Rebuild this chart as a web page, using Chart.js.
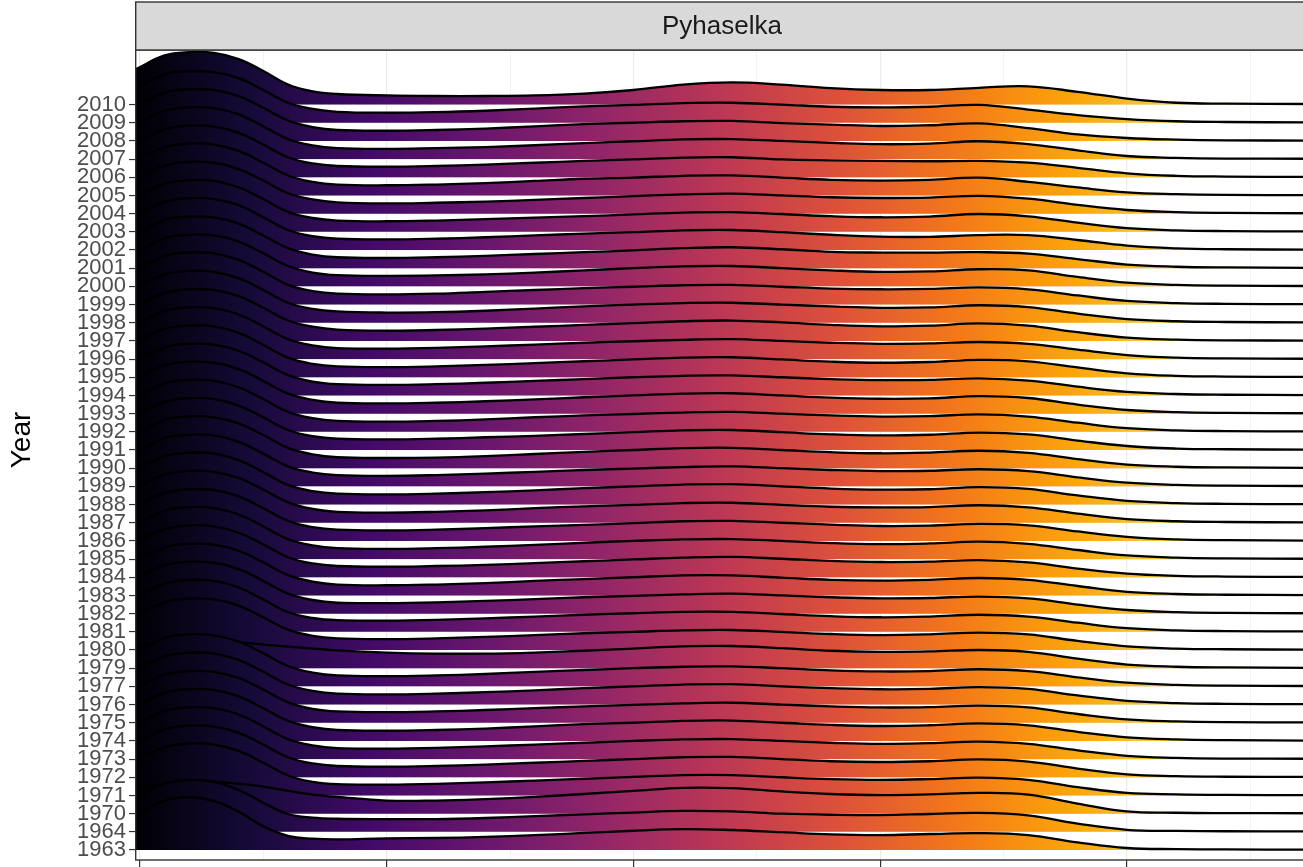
<!DOCTYPE html>
<html>
<head>
<meta charset="utf-8">
<script src="https://cdn.jsdelivr.net/npm/chart.js@4.4.0/dist/chart.umd.min.js"></script>
<style>
html,body{margin:0;padding:0;background:#fff;overflow:hidden}
#wrap{width:1310px;height:867px;position:relative}
</style>
</head>
<body>
<div id="wrap"><canvas id="c" width="1310" height="867"></canvas></div>
<script>
// ---------- data ----------
const panelTitle = 'Pyhaselka';
const yAxisTitle = 'Year';
const yearLabels = ['1963','1964','1970','1971','1972','1973','1974','1975','1976','1977',
  '1979','1980','1981','1982','1983','1984','1985','1986','1987','1988','1989','1990',
  '1991','1992','1993','1994','1995','1996','1997','1998','1999','2000','2001','2002',
  '2003','2004','2005','2006','2007','2008','2009','2010'];
const xGrid = [-0.08,0.5,1,1.5,2,2.5,3,3.5,4,5,6,7,8,9,10,11,12,13,14,15,16,17,18,19,20,21,22,23.67];
const xMajorTicks = [0,5,10,15,20];
const xMinorTicks = [2.5,7.5,12.5,17.5,22.5];
const xRange = [-0.08, 23.67];
const yRange = [-0.55, 44.0];

// ridge heights (in row units) at each xGrid point
const y1963 = [1.9,2.7,2.9,2.7,2.1,1.3,0.78,0.62,0.58,0.64,0.66,0.72,0.82,0.94,1.06,1.15,1.1,0.98,0.86,0.82,0.88,0.93,0.82,0.42,0.11,0.05,0.03,0.02];
const y1964 = [1.9,2.66,2.85,2.75,2.3,1.6,0.98,0.78,0.72,0.7,0.7,0.76,0.86,0.96,1.06,1.15,1.12,1.0,0.94,0.92,0.98,1.04,0.9,0.45,0.11,0.05,0.03,0.02];
const y1970 = [1.4,1.65,1.75,1.75,1.65,1.48,1.25,1.05,0.92,0.72,0.72,0.8,0.92,1.08,1.25,1.42,1.4,1.22,1.08,1.02,1.06,1.14,1.05,0.55,0.12,0.05,0.03,0.02];
const y1971 = [1.9,2.65,2.85,2.8,2.45,1.8,1.1,0.75,0.62,0.6,0.64,0.72,0.82,0.92,1.02,1.12,1.12,1.0,0.9,0.86,0.9,0.98,0.86,0.46,0.14,0.06,0.03,0.02];
const y1972 = [1.9,2.64,2.84,2.78,2.44,1.8,1.1,0.76,0.62,0.58,0.62,0.7,0.8,0.9,1.0,1.1,1.12,1.0,0.88,0.84,0.88,0.98,0.86,0.48,0.16,0.06,0.03,0.02];
const y1973 = [1.9,2.65,2.85,2.8,2.45,1.8,1.1,0.75,0.6,0.58,0.62,0.7,0.8,0.9,1.0,1.08,1.1,1.0,0.9,0.84,0.88,0.96,0.84,0.48,0.18,0.07,0.03,0.02];
const y1974 = [1.92,2.66,2.85,2.8,2.45,1.8,1.1,0.76,0.6,0.56,0.6,0.68,0.8,0.92,1.0,1.1,1.12,1.0,0.88,0.82,0.86,0.96,0.86,0.5,0.2,0.08,0.04,0.02];
const y1975 = [1.9,2.64,2.84,2.8,2.46,1.82,1.12,0.76,0.62,0.58,0.62,0.7,0.8,0.9,0.98,1.06,1.1,1.0,0.9,0.84,0.86,0.94,0.84,0.48,0.18,0.07,0.03,0.02];
const y1976 = [1.9,2.65,2.85,2.8,2.45,1.8,1.1,0.75,0.6,0.56,0.6,0.68,0.78,0.9,1.0,1.1,1.12,1.0,0.9,0.84,0.86,0.96,0.86,0.5,0.2,0.08,0.04,0.02];
const y1977 = [1.9,2.66,2.86,2.8,2.46,1.82,1.12,0.76,0.6,0.56,0.6,0.68,0.8,0.9,1.0,1.08,1.1,1.0,0.88,0.82,0.84,0.94,0.84,0.5,0.2,0.08,0.04,0.02];
const y1979 = [1.2,1.4,1.48,1.48,1.42,1.3,1.18,1.08,0.98,0.86,0.8,0.8,0.86,0.96,1.08,1.2,1.22,1.1,0.96,0.9,0.92,1.0,0.9,0.52,0.2,0.08,0.04,0.02];
const y1980 = [1.88,2.62,2.82,2.78,2.44,1.8,1.12,0.78,0.64,0.6,0.64,0.72,0.82,0.92,1.0,1.08,1.1,1.0,0.88,0.82,0.86,0.96,0.86,0.5,0.2,0.08,0.04,0.02];
const y1981 = [1.9,2.65,2.85,2.8,2.44,1.78,1.08,0.76,0.64,0.62,0.66,0.74,0.84,0.94,1.02,1.1,1.1,0.98,0.86,0.8,0.84,0.94,0.84,0.5,0.2,0.08,0.04,0.02];
const y1982 = [1.92,2.66,2.85,2.8,2.45,1.8,1.1,0.75,0.6,0.58,0.62,0.7,0.8,0.9,0.98,1.06,1.1,1.0,0.9,0.84,0.86,0.94,0.84,0.5,0.2,0.08,0.04,0.02];
const y1983 = [1.9,2.64,2.84,2.8,2.46,1.82,1.12,0.76,0.6,0.56,0.6,0.68,0.8,0.9,1.0,1.1,1.1,0.98,0.86,0.82,0.86,0.96,0.86,0.52,0.2,0.08,0.04,0.02];
const y1984 = [1.9,2.65,2.85,2.8,2.45,1.8,1.1,0.76,0.62,0.58,0.62,0.68,0.78,0.88,0.98,1.08,1.12,1.02,0.9,0.84,0.86,0.94,0.82,0.48,0.2,0.08,0.04,0.02];
const y1985 = [1.92,2.66,2.86,2.8,2.45,1.8,1.1,0.75,0.6,0.56,0.6,0.68,0.78,0.9,1.0,1.08,1.1,1.0,0.88,0.82,0.86,0.96,0.84,0.5,0.2,0.08,0.04,0.02];
const y1986 = [1.9,2.64,2.84,2.8,2.45,1.8,1.1,0.76,0.62,0.58,0.62,0.7,0.8,0.88,0.98,1.08,1.1,1.0,0.9,0.82,0.84,0.94,0.86,0.52,0.22,0.08,0.04,0.02];
const y1987 = [1.9,2.65,2.85,2.8,2.46,1.82,1.12,0.76,0.6,0.56,0.6,0.68,0.8,0.9,0.98,1.08,1.1,0.98,0.88,0.84,0.86,0.96,0.84,0.5,0.2,0.08,0.04,0.02];
const y1988 = [1.92,2.66,2.85,2.8,2.44,1.78,1.08,0.74,0.6,0.56,0.6,0.68,0.78,0.9,1.0,1.1,1.12,1.0,0.88,0.82,0.84,0.96,0.86,0.5,0.2,0.08,0.04,0.02];
const y1989 = [1.9,2.65,2.84,2.8,2.45,1.8,1.1,0.76,0.62,0.58,0.62,0.7,0.8,0.9,0.98,1.06,1.1,1.0,0.9,0.84,0.86,0.94,0.84,0.5,0.2,0.08,0.04,0.02];
const y1990 = [1.9,2.65,2.85,2.8,2.46,1.82,1.12,0.76,0.6,0.56,0.58,0.66,0.78,0.9,1.0,1.1,1.12,1.0,0.88,0.82,0.86,0.96,0.84,0.5,0.2,0.08,0.04,0.02];
const y1991 = [1.92,2.66,2.85,2.8,2.44,1.8,1.1,0.76,0.62,0.58,0.62,0.7,0.78,0.88,0.98,1.08,1.1,0.98,0.86,0.8,0.84,0.96,0.86,0.52,0.22,0.08,0.04,0.02];
const y1992 = [1.9,2.66,2.86,2.8,2.45,1.8,1.1,0.75,0.6,0.56,0.6,0.68,0.8,0.9,0.98,1.06,1.1,1.0,0.9,0.84,0.86,0.96,0.84,0.5,0.2,0.08,0.04,0.02];
const y1993 = [1.9,2.65,2.85,2.8,2.45,1.8,1.1,0.76,0.6,0.56,0.6,0.68,0.78,0.9,1.0,1.1,1.12,1.0,0.88,0.82,0.84,0.96,0.86,0.5,0.2,0.08,0.04,0.02];
const y1994 = [1.9,2.64,2.84,2.8,2.46,1.82,1.12,0.76,0.62,0.58,0.62,0.7,0.8,0.9,1.0,1.08,1.1,1.0,0.9,0.84,0.86,0.94,0.82,0.48,0.2,0.08,0.04,0.02];
const y1995 = [1.92,2.66,2.85,2.8,2.44,1.78,1.08,0.74,0.6,0.56,0.6,0.68,0.78,0.88,0.98,1.08,1.1,0.98,0.86,0.8,0.84,0.96,0.88,0.54,0.22,0.08,0.04,0.02];
const y1996 = [1.9,2.65,2.85,2.8,2.45,1.8,1.1,0.75,0.6,0.58,0.62,0.7,0.8,0.9,0.98,1.06,1.1,1.0,0.9,0.84,0.86,0.94,0.84,0.52,0.22,0.08,0.04,0.02];
const y1997 = [1.9,2.64,2.84,2.8,2.46,1.82,1.12,0.78,0.62,0.56,0.6,0.68,0.78,0.88,0.98,1.08,1.12,1.02,0.88,0.8,0.84,0.96,0.84,0.48,0.18,0.07,0.03,0.02];
const y1998 = [1.92,2.66,2.85,2.8,2.45,1.8,1.1,0.76,0.62,0.56,0.58,0.66,0.78,0.9,1.0,1.08,1.1,1.0,0.9,0.82,0.84,0.96,0.86,0.5,0.2,0.08,0.04,0.02];
const y1999 = [1.9,2.66,2.86,2.82,2.46,1.8,1.08,0.74,0.6,0.56,0.6,0.7,0.8,0.9,0.98,1.06,1.08,0.98,0.88,0.84,0.86,0.94,0.84,0.5,0.2,0.08,0.04,0.02];
const y2000 = [1.88,2.64,2.84,2.8,2.46,1.82,1.12,0.76,0.62,0.58,0.6,0.66,0.76,0.88,1.0,1.1,1.12,1.0,0.88,0.8,0.82,0.94,0.88,0.52,0.2,0.08,0.04,0.02];
const y2001 = [1.9,2.65,2.84,2.8,2.45,1.8,1.1,0.75,0.6,0.56,0.6,0.68,0.78,0.88,0.98,1.1,1.15,1.04,0.9,0.86,0.86,0.88,0.8,0.5,0.2,0.08,0.04,0.02];
const y2002 = [1.92,2.66,2.85,2.8,2.46,1.8,1.1,0.76,0.62,0.58,0.62,0.7,0.8,0.9,0.98,1.08,1.1,0.98,0.84,0.74,0.72,0.82,0.82,0.55,0.24,0.09,0.04,0.02];
const y2003 = [1.9,2.65,2.84,2.8,2.45,1.8,1.1,0.76,0.62,0.58,0.62,0.7,0.78,0.86,0.96,1.06,1.08,0.98,0.86,0.8,0.84,0.98,0.85,0.5,0.2,0.08,0.04,0.02];
const y2004 = [1.9,2.64,2.84,2.8,2.45,1.82,1.12,0.78,0.62,0.56,0.6,0.66,0.76,0.86,0.96,1.06,1.1,1.0,0.9,0.86,0.88,0.98,0.82,0.48,0.2,0.08,0.04,0.02];
const y2005 = [1.9,2.65,2.85,2.8,2.45,1.8,1.1,0.75,0.6,0.56,0.6,0.68,0.8,0.92,0.98,1.08,1.1,0.98,0.86,0.82,0.86,0.98,0.75,0.44,0.17,0.07,0.03,0.02];
const y2006 = [1.9,2.64,2.84,2.78,2.44,1.8,1.1,0.76,0.62,0.58,0.62,0.7,0.8,0.9,0.98,1.08,1.1,0.98,0.93,0.9,0.88,0.9,0.8,0.52,0.22,0.08,0.04,0.02];
const y2007 = [1.92,2.66,2.85,2.8,2.46,1.8,1.1,0.75,0.6,0.56,0.6,0.66,0.76,0.88,0.98,1.08,1.1,1.0,0.9,0.82,0.85,0.98,0.82,0.48,0.17,0.07,0.03,0.02];
const y2008 = [1.9,2.65,2.84,2.8,2.46,1.82,1.12,0.76,0.6,0.56,0.6,0.68,0.8,0.92,1.0,1.08,1.1,0.98,0.9,0.82,0.86,0.96,0.7,0.36,0.16,0.07,0.03,0.02];
const y2009 = [1.9,2.66,2.82,2.78,2.45,1.8,1.1,0.76,0.6,0.55,0.58,0.66,0.78,0.9,0.98,1.08,1.1,1.0,0.88,0.84,0.88,0.98,0.72,0.42,0.2,0.08,0.04,0.02];
const y2010 = [1.95,2.7,2.88,2.84,2.5,1.85,1.1,0.72,0.58,0.5,0.47,0.47,0.5,0.6,0.8,1.1,1.22,1.1,0.9,0.8,0.8,0.92,1.0,0.7,0.33,0.1,0.05,0.03];

const ridgeSeries = [y1963,y1964,y1970,y1971,y1972,y1973,y1974,y1975,y1976,y1977,
  y1979,y1980,y1981,y1982,y1983,y1984,y1985,y1986,y1987,y1988,y1989,y1990,
  y1991,y1992,y1993,y1994,y1995,y1996,y1997,y1998,y1999,y2000,y2001,y2002,
  y2003,y2004,y2005,y2006,y2007,y2008,y2009,y2010];

// inferno palette stops
const inferno = ['#000004','#160B39','#420A68','#6A176E','#932667','#BC3754','#DD513A','#F37819','#FCA50A','#F6D746','#FCFFA4'];

// ---------- chart ----------
let gradCache = null, gradKey = '';
function infernoFill(context) {
  const chart = context.chart;
  const area = chart.chartArea;
  if (!area) return '#000';
  const x = chart.scales.x;
  const x0 = x.getPixelForValue(xRange[0]), x1 = x.getPixelForValue(xRange[1]);
  const key = x0 + ',' + x1;
  if (gradCache && gradKey === key) return gradCache;
  const g = chart.ctx.createLinearGradient(x0, 0, x1, 0);
  inferno.forEach((c, i) => g.addColorStop(i / (inferno.length - 1), c));
  gradCache = g; gradKey = key;
  return g;
}

const datasets = ridgeSeries.map((vals, i) => ({
  label: yearLabels[i],
  data: xGrid.map((x, k) => ({x: x, y: i + vals[k]})),
  fill: {value: i},
  backgroundColor: infernoFill,
  borderColor: '#000000',
  borderWidth: 2.3,
  pointRadius: 0,
  tension: 0.4
}));

const isMajor = v => xMajorTicks.includes(v);

const decor = {
  id: 'decor',
  afterDraw(chart) {
    const {ctx, chartArea: a} = chart;
    ctx.save();
    ctx.strokeStyle = '#333333';
    ctx.lineWidth = 1.4;
    ctx.strokeRect(a.left - 0.3, a.top, a.right - a.left, a.bottom - a.top);
    ctx.fillStyle = '#d9d9d9';
    ctx.fillRect(a.left - 0.3, 2, a.right - a.left, a.top - 2);
    ctx.strokeRect(a.left - 0.3, 2, a.right - a.left, a.top - 2);
    ctx.fillStyle = '#1a1a1a';
    ctx.font = '26px "Liberation Sans", Arial, sans-serif';
    ctx.textAlign = 'center';
    ctx.textBaseline = 'middle';
    ctx.fillText(panelTitle, (a.left + a.right) / 2, 27);
    ctx.translate(22, 440);
    ctx.rotate(-Math.PI / 2);
    ctx.fillStyle = '#000000';
    ctx.font = '28px "Liberation Sans", Arial, sans-serif';
    ctx.fillText(yAxisTitle, 0, 0);
    ctx.restore();
  }
};

new Chart(document.getElementById('c'), {
  type: 'line',
  data: {datasets},
  options: {
    responsive: false,
    animation: false,
    devicePixelRatio: 1,
    layout: {padding: {top: 50, right: 2, bottom: 0, left: 0}},
    plugins: {legend: {display: false}, tooltip: {enabled: false}},
    scales: {
      x: {
        type: 'linear',
        min: xRange[0], max: xRange[1],
        afterBuildTicks: s => { s.ticks = [...xMajorTicks, ...xMinorTicks].sort((a,b)=>a-b).map(v => ({value: v})); },
        afterFit: s => { s.height = 7; s.paddingLeft = 0; s.paddingRight = 0; s.paddingTop = 0; s.paddingBottom = 0; },
        ticks: {display: true, callback: () => '', padding: 0},
        grid: {
          color: '#ebebeb',
          lineWidth: c => (c.tick && isMajor(c.tick.value)) ? 1.2 : 0.6,
          tickColor: c => (c.tick && isMajor(c.tick.value)) ? '#333333' : 'rgba(0,0,0,0)',
          tickLength: 7,
          tickWidth: 1.2
        },
        border: {display: false}
      },
      y: {
        type: 'linear',
        min: yRange[0], max: yRange[1],
        afterBuildTicks: s => { s.ticks = yearLabels.map((_, i) => ({value: i})); },
        afterFit: s => { s.width = 136; s.paddingTop = 0; s.paddingBottom = 0; s.paddingLeft = 0; s.paddingRight = 0; },
        ticks: {
          autoSkip: false,
          callback: v => yearLabels[v],
          color: '#4d4d4d',
          font: {family: '"Liberation Sans", Arial, sans-serif', size: 22},
          padding: 3
        },
        grid: {color: '#ebebeb', lineWidth: 1.1, tickColor: '#333333', tickLength: 7, tickWidth: 1.2},
        border: {display: false}
      }
    }
  },
  plugins: [decor]
});
</script>
</body>
</html>
